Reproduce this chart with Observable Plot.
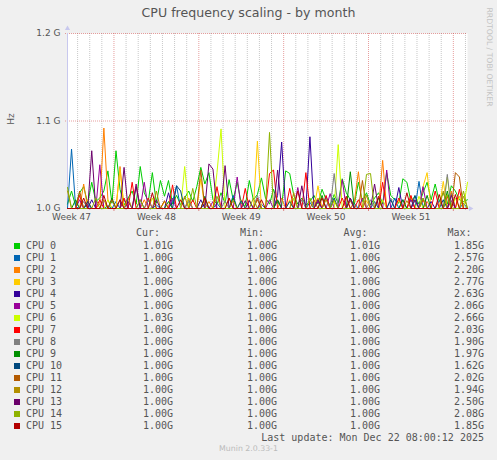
<!DOCTYPE html>
<html><head><meta charset="utf-8">
<script src="https://cdn.jsdelivr.net/npm/d3@7"></script>
<script src="https://cdn.jsdelivr.net/npm/@observablehq/plot@0.6"></script>
<style>
html,body{margin:0;padding:0;background:#f0f0f0;}
#wrap{position:relative;width:497px;height:460px;overflow:hidden;background:#f0f0f0;}
#wrap svg{position:absolute;left:0;top:0;}
.t{position:absolute;white-space:pre;}
.mono{font-family:"DejaVu Sans Mono",monospace;font-size:10px;color:#555;line-height:12px;}
.sans{font-family:"DejaVu Sans",sans-serif;color:#555;}
</style></head><body><div id="wrap"></div>
<script>
// ---- data (MHz above the 1.00 GHz floor, one point every 8 h over 33 days) ----
const BASE_MHZ = 1000;
const START = Date.UTC(2025, 10, 20, 4);
const STEP_HOURS = 8;
const DAYS = 33;

const cpu0 = [5,20,3,18,25,6,30,8,12,20, 43,6,66,22,4,12,20,5,48,18,
 8,41,6,32,14,32,5,15,4,12, 20,8,25,47,28,41,10,5,18,6,
 33,10,30,6,3,32,10,16,35,12, 5,22,6,3,43,40,15,5,12,4,
 8,15,5,22,10,4,16,6,34,18, 10,5,30,8,18,4,12,18,5,41,
 15,10,6,34,30,8,14,5,18,30, 10,28,8,18,5,26,20,10,8,10];
const cpu1 = [0,68,2,0,0,5,0,0,0,0, 3,0,8,0,10,0,0,0,0,0,
 0,0,4,0,0,0,8,26,0,0, 10,0,0,0,6,0,0,6,0,0,
 0,15,0,0,0,0,0,0,5,0, 0,0,9,0,0,0,12,0,0,0,
 7,0,0,0,14,0,0,0,0,0, 0,6,0,0,0,0,8,0,0,0,
 0,12,0,10,0,0,0,31,0,0, 0,0,9,0,0,18,0,0,6,0];
const cpu2 = [0,0,0,0,28,0,0,0,5,92, 10,0,0,48,0,0,0,0,0,10,
 0,0,0,0,8,0,0,0,0,0, 12,0,0,0,0,8,0,0,0,0,
 0,0,0,0,0,10,0,0,0,0, 0,0,0,12,0,0,0,0,0,0,
 0,0,12,0,0,0,9,0,0,0, 0,8,42,0,0,0,0,0,55,0,
 0,0,0,0,0,14,0,0,0,8, 0,0,0,0,0,20,0,0,0,0];
const cpu3 = [0,0,0,0,0,10,0,0,0,0, 0,0,0,45,0,0,0,28,0,0,
 0,0,0,0,8,0,0,0,0,0, 0,0,0,34,0,0,0,0,0,0,
 12,0,0,0,0,0,0,77,0,0, 0,0,0,0,0,10,0,0,0,0,
 0,0,26,0,0,0,0,0,0,12, 0,0,0,0,9,0,0,0,0,0,
 0,0,10,0,0,0,0,0,25,41, 0,0,0,31,0,0,0,14,0,0];
const cpu4 = [0,0,0,0,0,0,10,0,0,0, 0,0,0,0,0,8,0,0,0,0,
 0,0,0,0,0,18,0,0,0,0, 0,0,0,10,0,0,0,0,0,0,
 0,0,0,0,0,9,0,0,0,0, 0,0,15,76,0,0,0,0,0,0,
 82,0,0,0,0,0,0,0,0,0, 12,0,0,0,0,0,0,0,0,0,
 0,0,24,0,0,0,0,0,0,0, 8,0,0,0,0,0,0,0,0,0];
const cpu5 = [0,0,0,10,0,0,0,0,50,0, 0,0,0,0,0,0,0,28,0,30,
 0,0,0,0,0,0,12,0,0,0, 0,0,0,0,0,0,8,0,0,0,
 0,0,36,0,0,0,0,0,0,0, 10,0,0,0,0,0,0,24,0,0,
 0,0,8,0,0,17,0,0,33,0, 0,0,0,12,0,0,0,0,0,44,
 0,0,0,0,0,10,0,0,25,0, 0,0,0,0,0,9,0,0,0,0];
const cpu6 = [0,0,0,0,0,0,0,0,0,0, 10,0,0,0,0,0,0,0,0,0,
 0,12,0,0,0,0,0,0,0,48, 0,0,0,0,0,0,0,41,91,0,
 0,0,0,10,0,0,0,0,0,0, 0,0,0,0,0,0,12,0,0,0,
 0,0,0,0,0,0,0,73,0,0, 0,0,0,0,0,0,0,0,10,0,
 0,0,0,0,0,0,0,14,0,0, 0,0,0,0,36,0,12,0,0,30];
const cpu7 = [0,0,0,15,0,0,0,0,10,0, 0,0,0,0,12,0,30,0,0,0,
 12,0,0,0,0,0,27,0,0,0, 0,10,0,0,0,0,0,25,0,0,
 0,0,0,0,23,0,0,12,0,0, 40,44,0,0,0,23,0,0,0,41,
 0,0,0,0,15,0,0,0,12,0, 0,0,10,0,0,0,0,0,30,0,
 0,0,12,0,0,15,0,0,10,0, 0,20,0,0,14,0,0,22,0,0];
const cpu8 = [0,0,0,0,8,0,0,0,0,0, 0,0,0,10,0,0,0,0,0,0,
 10,0,0,0,0,0,0,0,0,0, 8,0,0,0,0,0,0,0,0,9,
 0,0,0,0,0,0,0,15,0,0, 0,0,0,0,0,0,0,0,10,0,
 0,0,0,0,0,0,40,0,0,0, 0,0,0,0,0,10,0,0,0,0,
 12,0,0,0,0,0,9,0,0,0, 0,0,0,0,39,0,0,0,0,0];
const cpu9 = [0,0,10,0,0,0,0,0,0,0, 0,12,0,0,0,0,0,0,0,0,
 0,0,0,0,0,8,0,0,0,0, 0,0,0,0,14,0,0,0,0,0,
 0,12,0,0,0,0,0,0,0,0, 0,0,10,0,0,0,0,0,0,0,
 0,0,0,15,0,0,0,0,0,0, 42,0,0,0,0,0,0,12,0,0,
 0,0,0,10,0,0,0,0,0,15, 0,0,0,0,20,0,0,0,0,0];
const cpu10 = [0,0,0,0,0,8,0,0,0,0, 0,0,0,0,0,0,0,0,10,0,
 0,0,0,0,0,0,0,26,20,0, 0,0,0,0,0,0,0,0,0,0,
 0,0,0,9,0,0,0,0,0,0, 0,0,0,0,0,8,0,0,0,0,
 0,0,0,0,0,0,12,0,0,0, 0,0,0,0,0,0,0,0,0,0,
 10,0,0,0,0,0,15,0,0,0, 0,0,0,10,0,0,0,0,0,0];
const cpu11 = [0,0,0,20,0,0,0,0,0,0, 0,10,0,0,0,0,0,0,0,0,
 0,0,0,0,9,0,0,0,0,0, 0,0,0,44,0,0,0,0,0,0,
 0,0,0,0,0,0,0,10,0,0, 0,0,0,0,0,0,0,0,0,0,
 0,10,0,0,0,0,0,0,0,0, 9,0,0,32,0,0,0,0,0,0,
 0,0,0,0,0,0,0,0,12,0, 0,0,0,0,0,0,41,36,0,0];
const cpu12 = [20,0,0,0,0,0,0,0,0,10, 0,0,0,0,0,12,0,0,0,0,
 0,0,20,0,0,0,0,0,0,14, 0,0,0,0,0,0,0,0,0,0,
 0,9,0,0,0,0,0,0,0,0, 0,0,0,0,0,0,18,0,0,0,
 0,0,0,0,10,0,0,0,0,0, 0,0,0,0,15,0,0,0,0,0,
 0,0,0,0,9,0,0,0,0,0, 0,0,0,20,0,0,0,0,14,0];
const cpu13 = [0,0,0,0,0,0,66,0,0,0, 0,0,0,0,47,0,0,25,0,0,
 0,0,10,0,0,0,0,0,0,0, 0,0,0,0,0,51,45,0,0,49,
 0,0,0,0,9,0,0,0,0,0, 0,0,44,0,0,0,0,0,26,0,
 0,0,10,0,0,0,0,0,0,0, 12,0,0,0,0,0,28,0,0,0,
 0,0,0,0,0,0,10,0,0,0, 0,0,0,0,0,15,0,0,0,0];
const cpu14 = [24,0,0,0,0,0,0,12,0,0, 0,0,0,0,0,0,0,0,10,0,
 0,0,0,0,0,0,0,0,0,0, 0,23,0,0,0,0,0,14,0,0,
 0,0,0,0,0,0,12,0,0,0, 87,0,0,0,0,0,0,0,0,0,
 12,0,0,0,0,0,10,0,0,0, 0,0,0,0,39,40,0,0,0,0,
 0,0,0,0,0,0,0,0,12,0, 0,0,0,0,16,0,0,0,20,0];
const cpu15 = [0,0,0,0,12,0,0,0,0,15, 0,0,0,10,0,0,0,0,0,0,
 0,18,0,0,0,0,0,0,10,0, 0,0,0,0,12,0,0,0,0,0,
 12,0,0,0,0,0,0,0,10,0, 0,0,0,0,0,0,0,20,0,0,
 0,0,0,12,0,0,0,0,0,14, 0,0,0,0,0,0,0,14,0,0,
 0,0,0,0,18,0,0,0,0,0, 0,0,16,0,0,0,16,0,0,0];

const series = [cpu0,cpu1,cpu2,cpu3,cpu4,cpu5,cpu6,cpu7,cpu8,cpu9,cpu10,cpu11,cpu12,cpu13,cpu14,cpu15];
const cpuNames = ["CPU 0","CPU 1","CPU 2","CPU 3","CPU 4","CPU 5","CPU 6","CPU 7",
  "CPU 8","CPU 9","CPU 10","CPU 11","CPU 12","CPU 13","CPU 14","CPU 15"];
const colors = ["#00CC00","#0066B3","#FF8000","#FFCC00","#330099","#990099","#CCFF00","#FF0000",
  "#808080","#008F00","#00487D","#B35A00","#B38F00","#6B006B","#8FB300","#B30000"];
const curVals = ["1.01G","1.00G","1.00G","1.00G","1.00G","1.00G","1.03G","1.00G","1.00G","1.00G","1.00G","1.00G","1.00G","1.00G","1.00G","1.00G"];
const minVals = ["1.00G","1.00G","1.00G","1.00G","1.00G","1.00G","1.00G","1.00G","1.00G","1.00G","1.00G","1.00G","1.00G","1.00G","1.00G","1.00G"];
const avgVals = ["1.01G","1.00G","1.00G","1.00G","1.00G","1.00G","1.00G","1.00G","1.00G","1.00G","1.00G","1.00G","1.00G","1.00G","1.00G","1.00G"];
const maxVals = ["1.85G","2.57G","2.20G","2.77G","2.63G","2.06G","2.66G","2.03G","1.90G","1.97G","1.62G","2.02G","1.94G","2.50G","2.08G","1.85G"];
const colHeads = ["Cur:","Min:","Avg:","Max:"];

const yTicks = [1.0e9, 1.1e9, 1.2e9];
const weekLabels = ["Week 47","Week 48","Week 49","Week 50","Week 51"];
const weekLabelDates = [Date.UTC(2025,10,20,12), Date.UTC(2025,10,27,12), Date.UTC(2025,11,4,12), Date.UTC(2025,11,11,12), Date.UTC(2025,11,18,12)];
const weekStarts = [Date.UTC(2025,10,24), Date.UTC(2025,11,1), Date.UTC(2025,11,8), Date.UTC(2025,11,15), Date.UTC(2025,11,22)];

const titleText = "CPU frequency scaling - by month";
const lastUpdate = "Last update: Mon Dec 22 08:00:12 2025";
const version = "Munin 2.0.33-1";
const watermark = "RRDTOOL / TOBI OETIKER";

// ---- build ----
const x0 = new Date(START), x1 = new Date(START + DAYS * 864e5);
const data = [];
series.forEach((arr, k) => arr.forEach((v, i) => data.push({
  cpu: cpuNames[k], t: new Date(START + i * STEP_HOURS * 3600e3), hz: (BASE_MHZ + v) * 1e6
})));
const weekSet = new Set(weekStarts);
const dayLines = d3.utcDay.range(x0, x1).filter(d => !weekSet.has(+d));
const weekLines = weekStarts.map(d => new Date(d));
const weekTicks = weekLabels.map((l, i) => ({t: new Date(weekLabelDates[i]), label: l}));
const axisColor = "#c8c8ee";
const minorC = "#9a9a9a", majorC = "#d04040";

const plot = Plot.plot({
  width: 497, height: 225,
  marginLeft: 67, marginRight: 30, marginTop: 33, marginBottom: 17,
  style: {fontFamily: "DejaVu Sans, sans-serif", fontSize: "9px", color: "#555", background: "transparent", overflow: "visible"},
  x: {type: "utc", domain: [x0, x1], axis: null},
  y: {domain: [1.0e9, 1.2e9], axis: null},
  color: {domain: cpuNames, range: colors},
  marks: [
    Plot.frame({fill: "white", stroke: null}),
    Plot.ruleX(dayLines, {y1: 1.0e9, y2: 1.2e9, stroke: minorC, strokeOpacity: 0.55, strokeDasharray: "1,1"}),
    Plot.ruleX(weekLines, {y1: 1.0e9, y2: 1.2e9, stroke: majorC, strokeOpacity: 0.5, strokeDasharray: "1,1"}),
    Plot.ruleY(yTicks.slice(1), {x1: x0, x2: x1, stroke: majorC, strokeOpacity: 0.5, strokeDasharray: "1,1", insetLeft: -2}),
    Plot.ruleX(dayLines, {y1: 1.0e9, y2: 1.0e9, insetBottom: -2, stroke: minorC, strokeOpacity: 0.6}),
    Plot.ruleX(weekLines, {y1: 1.0e9, y2: 1.0e9, insetBottom: -3, stroke: majorC, strokeOpacity: 0.6}),
    Plot.ruleX([x0], {y1: 1.0e9, y2: 1.2e9, insetTop: -5, stroke: axisColor}),
    Plot.ruleY([1.0e9], {x1: x0, x2: x1, insetRight: -3, stroke: axisColor}),
    Plot.dot([{t: x0, v: 1.2e9}], {x: "t", y: "v", dy: -5, symbol: "triangle", r: 1.9, fill: axisColor, stroke: null}),
    Plot.dot([{t: x1, v: 1.0e9}], {x: "t", y: "v", dx: 3, symbol: "triangle", rotate: 90, r: 1.9, fill: axisColor, stroke: null}),
    Plot.line(data, {x: "t", y: "hz", z: "cpu", stroke: "cpu", strokeWidth: 1}),
    Plot.axisY(yTicks, {tickFormat: d => (d / 1e9).toFixed(1) + " G", tickSize: 0, tickPadding: 7, fontSize: 9, label: null}),
    Plot.text(weekTicks, {x: "t", text: "label", frameAnchor: "bottom", dy: 11, fill: "#555", fontSize: 9})
  ]
});

const wrap = document.getElementById("wrap");
wrap.appendChild(plot);

function addDiv(cls, text, css) {
  const d = document.createElement("div");
  d.className = "t " + cls;
  d.textContent = text;
  Object.assign(d.style, css);
  wrap.appendChild(d);
  return d;
}
addDiv("sans", titleText, {left: "0px", width: "497px", textAlign: "center", top: "5px", fontSize: "12.6px", lineHeight: "16px"});
addDiv("sans", "Hz", {left: "10.5px", top: "119px", fontSize: "9px", lineHeight: "10px", transform: "translate(-50%,-50%) rotate(-90deg)"});
addDiv("sans", watermark, {left: "488.5px", top: "57px", fontSize: "7.7px", lineHeight: "9px", color: "#c4c4c4", transform: "translate(-50%,-50%) rotate(90deg)"});

const headLeft = [136, 240, 343.5, 447.5];
colHeads.forEach((h, j) => addDiv("mono", h, {left: headLeft[j] + "px", top: "227.3px"}));
const valRight = [173, 277, 380, 484];
cpuNames.forEach((name, k) => {
  const cy = 245.7 + 12 * k;
  const sq = document.createElement("div");
  Object.assign(sq.style, {position: "absolute", left: "14px", top: (cy - 3) + "px", width: "6px", height: "6px", background: colors[k]});
  wrap.appendChild(sq);
  addDiv("mono", name, {left: "26px", top: (cy - 6) + "px"});
  [curVals, minVals, avgVals, maxVals].forEach((col, j) =>
    addDiv("mono", col[k], {right: (497 - valRight[j]) + "px", top: (cy - 6) + "px"}));
});
addDiv("mono", lastUpdate, {right: (497 - 484) + "px", top: (437.5 - 6) + "px"});
addDiv("sans", version, {left: "0px", width: "497px", textAlign: "center", top: "444px", fontSize: "7.8px", lineHeight: "10px", color: "#bbb"});
</script></body></html>
